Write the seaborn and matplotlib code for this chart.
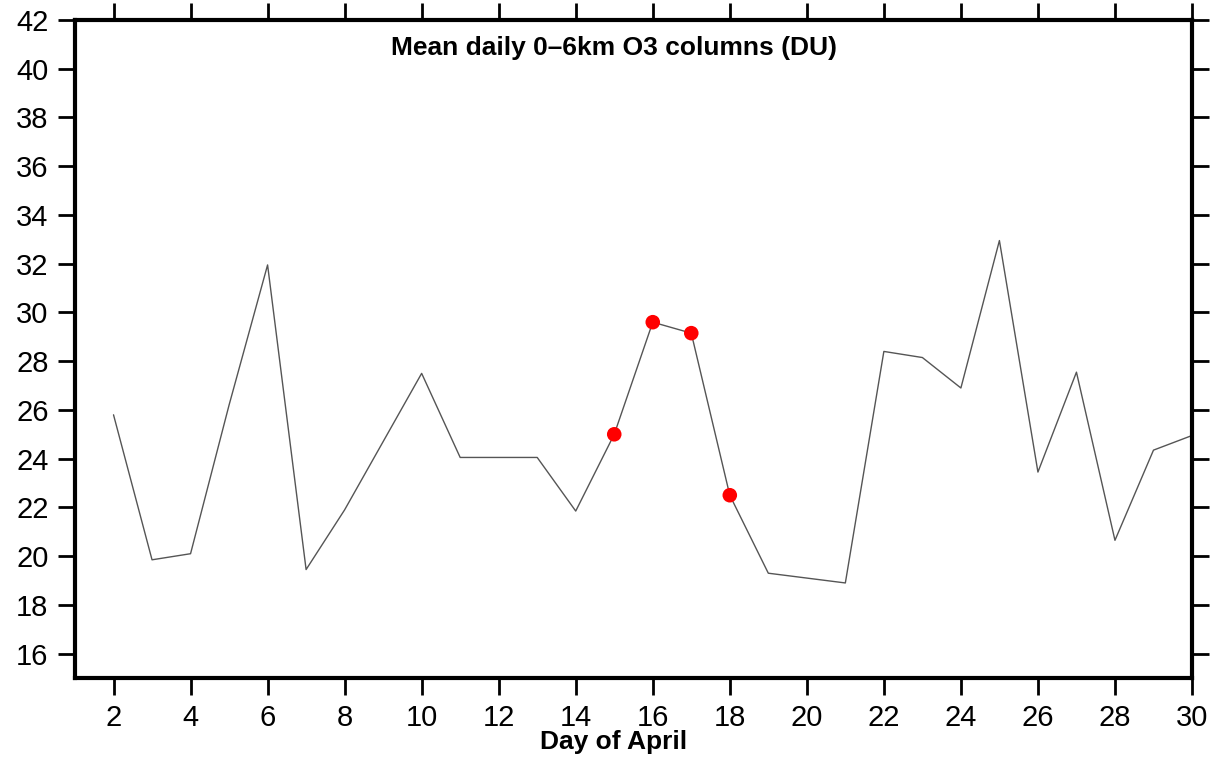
import matplotlib
matplotlib.use("Agg")
import matplotlib.pyplot as plt
import seaborn as sns
import pandas as pd

days = list(range(2, 31))
o3 = [25.8, 19.85, 20.1, 26.2, 31.95, 19.45, 21.9, 24.7, 27.5, 24.05, 24.05, 24.05,
      21.85, 25.0, 29.6, 29.15, 22.5, 19.3, 19.1, 18.9, 28.4, 28.15, 26.9, 32.95,
      23.45, 27.55, 20.65, 24.35, 24.95]
hl_days = [15, 16, 17, 18]
hl_vals = [25.0, 29.6, 29.15, 22.5]

sns.set_style("white")
plt.rcParams['font.family'] = ['Liberation Sans', 'DejaVu Sans']

df = pd.DataFrame({"day": days, "o3": o3})
hl = pd.DataFrame({"day": hl_days, "o3": hl_vals})

fig = plt.figure(figsize=(12.14, 7.58), dpi=100)
ax = fig.add_axes([75/1214, 1-678/758, (1192-75)/1214, (678-20)/758])

sns.lineplot(data=df, x="day", y="o3", ax=ax, color="#555555", linewidth=1.0)
sns.scatterplot(data=hl, x="day", y="o3", ax=ax, color="red", s=110,
                edgecolor="none", zorder=5)

ax.set_xlim(1, 30)
ax.set_ylim(15, 42)
ax.set_xticks(range(2, 31, 2))
ax.set_yticks(range(16, 43, 2))
ax.tick_params(axis="both", which="both", direction="out", length=12, width=2,
               labelsize=21, color="black", labelcolor="black", pad=7)
ax.tick_params(axis="x", top=True, bottom=True)
ax.tick_params(axis="y", left=True, right=True, labelright=False)
for s in ax.spines.values():
    s.set_visible(True)
    s.set_linewidth(3)
    s.set_color("black")
ax.set_xlabel("")
ax.set_ylabel("")

fig.text(614/1214, 1-48/758, "Mean daily 0\u20136km O3 columns (DU)", ha="center", va="center",
         fontsize=19, fontweight="bold", color="black")
fig.text(614/1214, 1-742/758, "Day of April", ha="center", va="center",
         fontsize=19, fontweight="bold", color="black")

fig.savefig("out.png", dpi=100)
